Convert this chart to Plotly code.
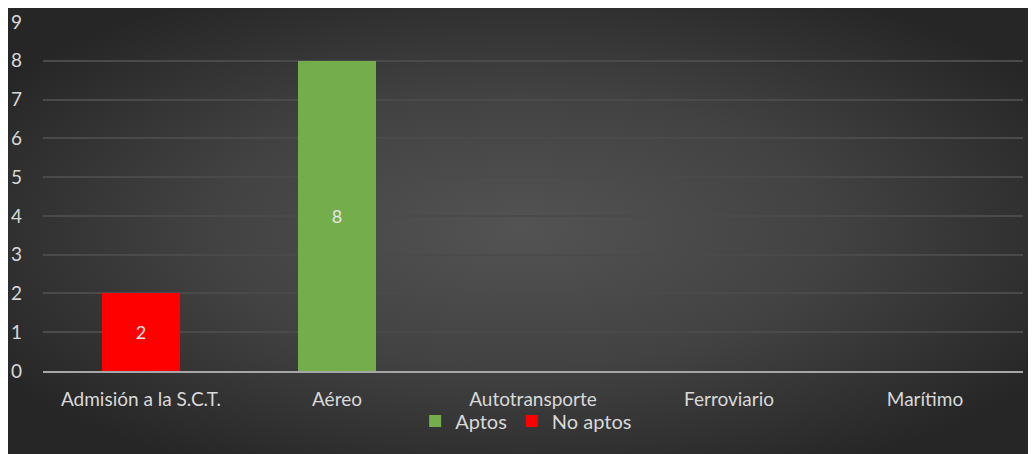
import plotly.graph_objects as go
import base64

categories = ["Admisión a la S.C.T.", "Aéreo", "Autotransporte", "Ferroviario", "Marítimo"]
aptos = [0, 8, 0, 0, 0]
no_aptos = [2, 0, 0, 0, 0]
y_ticks = list(range(0, 10))

W, H = 1036, 454
ml, mr, mt, mb = 35, 21, 14, 91
pw, ph = W - ml - mr, H - mt - mb

svg = ('<svg xmlns="http://www.w3.org/2000/svg" width="1036" height="454" preserveAspectRatio="none">'
       '<defs><radialGradient id="g" cx="49.5%" cy="49%" r="60%" gradientUnits="objectBoundingBox">'
       '<stop offset="0" stop-color="#535353"/><stop offset="0.5" stop-color="#424242"/>'
       '<stop offset="1" stop-color="#262626"/></radialGradient></defs>'
       '<rect width="1036" height="454" fill="url(#g)"/></svg>')
src = "data:image/svg+xml;base64," + base64.b64encode(svg.encode()).decode()

def lab(vals):
    return [str(v) if v else "" for v in vals]

fig = go.Figure()
fig.add_trace(go.Bar(x=categories, y=aptos, name="Aptos", marker_color="#74ad4c",
                     marker_line_width=0,
                     text=lab(aptos), textposition="inside", insidetextanchor="middle",
                     textfont=dict(color="#e6e6e6", size=18), hoverinfo="skip"))
fig.add_trace(go.Bar(x=categories, y=no_aptos, name="No aptos", marker_color="#ff0000",
                     marker_line_width=0,
                     text=lab(no_aptos), textposition="inside", insidetextanchor="middle",
                     textfont=dict(color="#e6e6e6", size=18), hoverinfo="skip"))

x0 = -ml / pw
x1 = (W - ml) / pw
ytop = (ph + mt) / ph
fig.add_layout_image(dict(source=src, xref="paper", yref="paper", x=x0, y=ytop,
                          sizex=x1 - x0, sizey=H / ph, sizing="stretch",
                          xanchor="left", yanchor="top", layer="below"))

fig.update_layout(
    width=W, height=H, margin=dict(l=ml, r=mr, t=mt, b=mb, autoexpand=False),
    paper_bgcolor="#262626", plot_bgcolor="rgba(0,0,0,0)",
    barmode="stack", bargap=0.6,
    font=dict(family="Lato, Open Sans, sans-serif", color="#d9d9d9", size=19),
    showlegend=True,
    legend=dict(orientation="h", x=0.493, xanchor="center", y=-0.143, yanchor="middle",
                font=dict(size=20, color="#d9d9d9"), itemwidth=30, traceorder="normal",
                bgcolor="rgba(0,0,0,0)", tracegroupgap=0),
    xaxis=dict(showgrid=False, showline=True, linecolor="#a6a6a6", linewidth=2,
               ticks="", tickfont=dict(size=19, color="#d9d9d9"), fixedrange=True,
               ticklabelstandoff=10),
    yaxis=dict(range=[0, 9], tickvals=y_ticks, showgrid=True, gridcolor="#4a4a4a",
               gridwidth=1.5, zeroline=False, showline=False, ticks="",
               tickfont=dict(size=19, color="#d9d9d9"), fixedrange=True,
               ticklabelstandoff=20),
)

fig.write_html("out.html")
